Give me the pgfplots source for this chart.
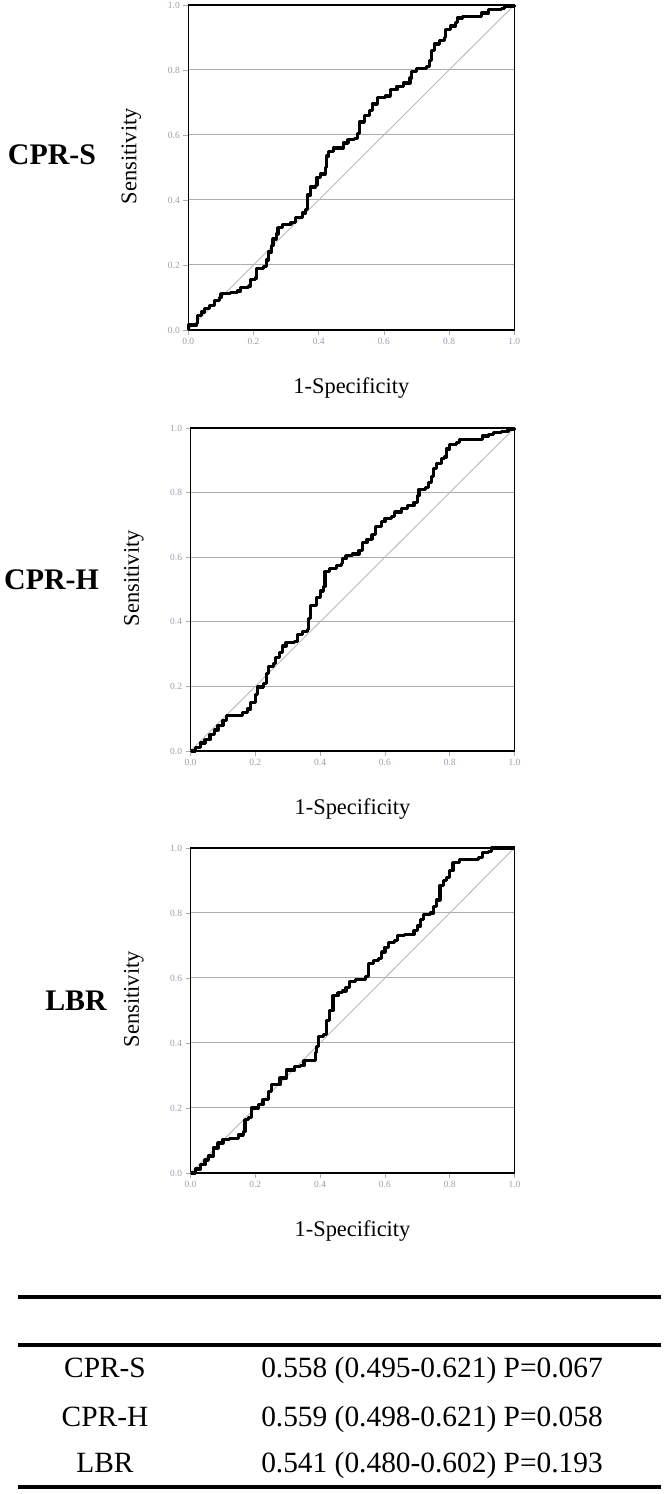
\documentclass[border=0pt]{standalone}
\usepackage{fontspec}
\setmainfont{Liberation Serif}
\usepackage{pgfplots}
\pgfplotsset{compat=1.18}
\usepackage{pgfplotstable}

\definecolor{tickc}{RGB}{150,158,178}
\definecolor{gridc}{RGB}{172,172,172}
\definecolor{diagc}{RGB}{185,185,185}

\pgfplotstableread{
x y
0 0
0 0.015
0.025 0.02
0.027 0.045
0.04 0.055
0.05 0.065
0.065 0.075
0.08 0.09
0.095 0.1
0.1 0.112
0.13 0.115
0.15 0.12
0.16 0.13
0.185 0.135
0.19 0.155
0.205 0.16
0.21 0.19
0.23 0.195
0.24 0.215
0.245 0.24
0.255 0.26
0.26 0.28
0.27 0.295
0.275 0.315
0.29 0.325
0.315 0.33
0.33 0.345
0.35 0.36
0.36 0.37
0.365 0.415
0.375 0.44
0.39 0.445
0.395 0.47
0.405 0.48
0.42 0.5
0.425 0.535
0.43 0.55
0.445 0.56
0.47 0.56
0.475 0.575
0.49 0.585
0.51 0.59
0.52 0.605
0.525 0.64
0.54 0.66
0.555 0.675
0.565 0.695
0.58 0.715
0.605 0.72
0.62 0.74
0.64 0.75
0.66 0.76
0.68 0.775
0.685 0.795
0.7 0.805
0.73 0.81
0.74 0.83
0.745 0.86
0.755 0.88
0.77 0.89
0.785 0.9
0.79 0.925
0.805 0.935
0.82 0.945
0.825 0.96
0.84 0.965
0.885 0.965
0.9 0.975
0.92 0.985
0.96 0.99
0.97 0.995
1 1
}\rocA

\pgfplotstableread{
x y
0 0
0.015 0.01
0.03 0.025
0.045 0.035
0.06 0.05
0.075 0.065
0.085 0.08
0.1 0.095
0.11 0.11
0.145 0.11
0.16 0.12
0.175 0.13
0.185 0.15
0.2 0.175
0.208 0.198
0.225 0.21
0.235 0.24
0.24 0.262
0.255 0.27
0.262 0.29
0.275 0.305
0.285 0.325
0.295 0.335
0.32 0.34
0.33 0.36
0.345 0.37
0.36 0.375
0.365 0.41
0.37 0.45
0.385 0.45
0.39 0.475
0.4 0.495
0.41 0.51
0.415 0.555
0.43 0.565
0.45 0.575
0.465 0.58
0.47 0.595
0.48 0.605
0.5 0.61
0.52 0.62
0.53 0.645
0.545 0.655
0.56 0.67
0.57 0.695
0.59 0.71
0.6 0.72
0.62 0.725
0.63 0.74
0.65 0.75
0.67 0.76
0.69 0.77
0.7 0.79
0.705 0.81
0.725 0.815
0.735 0.83
0.745 0.85
0.75 0.875
0.76 0.89
0.775 0.905
0.785 0.91
0.79 0.935
0.8 0.95
0.82 0.955
0.83 0.965
0.89 0.965
0.9 0.975
0.92 0.98
0.935 0.985
0.96 0.99
0.98 0.995
1 1
}\rocB

\pgfplotstableread{
x y
0 0
0.015 0.012
0.03 0.025
0.045 0.04
0.055 0.052
0.07 0.077
0.085 0.092
0.1 0.102
0.12 0.107
0.147 0.117
0.163 0.127
0.168 0.164
0.178 0.17
0.188 0.2
0.209 0.21
0.224 0.225
0.24 0.25
0.25 0.272
0.276 0.292
0.297 0.317
0.322 0.327
0.34 0.33
0.35 0.345
0.38 0.345
0.385 0.37
0.39 0.39
0.395 0.42
0.41 0.425
0.42 0.47
0.43 0.5
0.44 0.545
0.455 0.555
0.47 0.56
0.48 0.57
0.49 0.59
0.51 0.595
0.54 0.605
0.55 0.645
0.565 0.655
0.58 0.66
0.59 0.68
0.6 0.695
0.61 0.71
0.63 0.715
0.64 0.73
0.66 0.735
0.69 0.745
0.7 0.76
0.71 0.78
0.72 0.795
0.74 0.8
0.75 0.82
0.76 0.84
0.77 0.885
0.78 0.9
0.79 0.91
0.8 0.93
0.81 0.955
0.83 0.965
0.89 0.97
0.9 0.985
0.92 0.99
0.93 1.0
1 1
}\rocC

\pgfplotsset{rocaxis/.style={
  scale only axis, anchor=south west, clip=false,
  xmin=0, xmax=1, ymin=0, ymax=1,
  xtick={0,0.2,0.4,0.6,0.8,1}, ytick={0,0.2,0.4,0.6,0.8,1},
  xtick pos=bottom, ytick pos=left, tick align=outside,
  major tick length=5bp,
  tick style={gridc, line width=0.8bp},
  /pgf/number format/assume math mode=true,
  /pgf/number format/fixed, /pgf/number format/fixed zerofill, /pgf/number format/precision=1,
  ticklabel style={font=\fontsize{9.5}{11}\selectfont, text=tickc},
  ymajorgrids, grid style={gridc, line width=1bp},
  axis line style={black, line width=1.3bp},
  xlabel={1-Specificity}, ylabel={Sensitivity},
  label style={font=\fontsize{22.5}{26}\selectfont},
  xlabel style={at={(axis description cs:0.5,-0.18)}, anchor=center},
  ylabel style={at={(axis description cs:-0.175,0.535)}, anchor=center},
}}

\begin{document}
\begin{tikzpicture}[x=1bp,y=1bp]
\useasboundingbox (0,0) rectangle (664,1494);

\begin{axis}[rocaxis, at={(188.3bp,1164bp)}, width=326bp, height=325bp]
\addplot[diagc, line width=0.9bp] coordinates {(0,0) (1,1)};
\addplot[const plot, black, line width=3.2bp, line join=round] table[x=x,y=y] {\rocA};
\end{axis}

\begin{axis}[rocaxis, at={(190.5bp,743bp)}, width=324bp, height=323bp]
\addplot[diagc, line width=0.9bp] coordinates {(0,0) (1,1)};
\addplot[const plot, black, line width=3.2bp, line join=round] table[x=x,y=y] {\rocB};
\end{axis}

\begin{axis}[rocaxis, at={(190.5bp,321bp)}, width=324bp, height=325bp]
\addplot[diagc, line width=0.9bp] coordinates {(0,0) (1,1)};
\addplot[const plot, black, line width=3.2bp, line join=round] table[x=x,y=y] {\rocC};
\end{axis}

\node[font=\fontsize{30}{34}\selectfont\bfseries] at (52,1339) {CPR-S};
\node[font=\fontsize{30}{34}\selectfont\bfseries] at (51.5,914) {CPR-H};
\node[font=\fontsize{30}{34}\selectfont\bfseries] at (76,493) {LBR};

\draw[line width=4.5bp] (18,197) -- (661,197);
\draw[line width=4.5bp] (18,149) -- (661,149);
\draw[line width=4.5bp] (18,7) -- (661,7);

\begin{scope}[every node/.style={font=\fontsize{29.5}{34}\selectfont, anchor=base, inner sep=0pt}]
\node at (105,116) {CPR-S};
\node at (432,116) {0.558 (0.495-0.621) P=0.067};
\node at (105,67) {CPR-H};
\node at (432,67) {0.559 (0.498-0.621) P=0.058};
\node at (105,21) {LBR};
\node at (432,21) {0.541 (0.480-0.602) P=0.193};
\end{scope}
\end{tikzpicture}
\end{document}
